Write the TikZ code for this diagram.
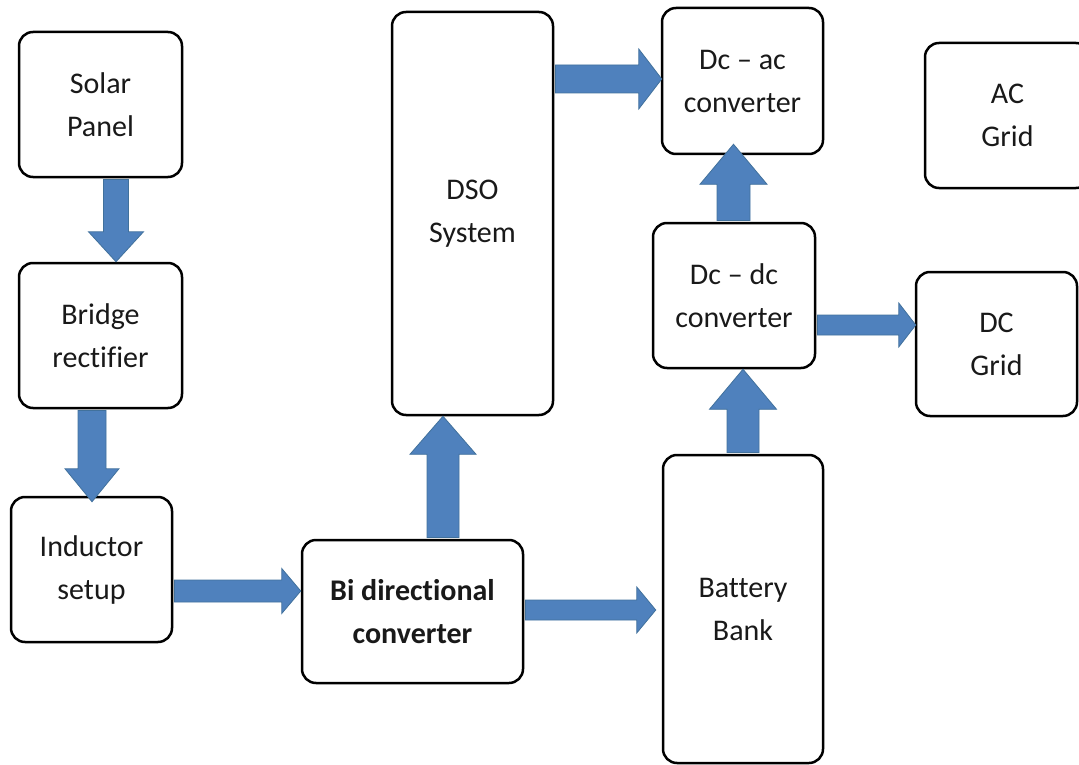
\documentclass[tikz,border=0pt]{standalone}
\usepackage{fontspec}
\setmainfont{Carlito}[Ligatures=NoCommon]
\usetikzlibrary{calc}
\definecolor{arrowblue}{HTML}{4F81BD}
\definecolor{arrowedge}{HTML}{41719C}
\tikzset{
  blockbox/.style={draw=black, line width=2.5pt, rounded corners=14pt, align=center,
    font=\fontsize{30}{43}\selectfont, inner sep=0pt, text=black!90},
  fatarrowstyle/.style={fill=arrowblue, draw=arrowedge, line width=0.8pt, line join=miter},
}
\newcommand{\fatarrow}[5]{% from, to, shaft half width, head half width, head length
  \coordinate (fa-s) at ($(#2)!#5!(#1)$);
  \path[fatarrowstyle] ($(#1)!#3!90:(#2)$) -- ($(fa-s)!#3!90:(#2)$) -- ($(fa-s)!#4!90:(#2)$)
    -- (#2) -- ($(fa-s)!#4!-90:(#2)$) -- ($(fa-s)!#3!-90:(#2)$) -- ($(#1)!#3!-90:(#2)$) -- cycle;
}
\begin{document}
\begin{tikzpicture}[x=1pt,y=-1pt]
\useasboundingbox (0,0) rectangle (1079,765);

% boxes
\node[blockbox, minimum width=163pt, minimum height=145pt] (sp)   at (100.5,104.5) {Solar\\Panel};
\node[blockbox, minimum width=163pt, minimum height=145pt] (br)   at (100.5,335.5) {Bridge\\rectifier};
\node[blockbox, minimum width=161pt, minimum height=145pt] (ind)  at (91.5,569.5)  {Inductor\\setup};
\node[blockbox, minimum width=221pt, minimum height=143pt, font=\fontsize{30}{43}\selectfont\bfseries] (bi) at (412.5,611.5) {Bi directional\\converter};
\node[blockbox, minimum width=161pt, minimum height=403pt] (dso)  at (472.5,213.5) {DSO\\System};
\node[blockbox, minimum width=161pt, minimum height=146pt] (dcac) at (742.5,81)    {Dc -- ac\\converter};
\node[blockbox, minimum width=165pt, minimum height=145pt] (ac)   at (1007.5,115.5){AC\\Grid};
\node[blockbox, minimum width=162pt, minimum height=145pt] (dcdc) at (734,295.5)   {Dc -- dc\\converter};
\node[blockbox, minimum width=161pt, minimum height=144pt] (dcg)  at (996.5,344)   {DC\\Grid};
\node[blockbox, minimum width=160pt, minimum height=308pt] (bat)  at (743,609)     {Battery\\Bank};

% arrow end points
\coordinate (a1s) at ($(sp.south)+(15.5,1.2)$);
\coordinate (a1e) at ($(br.north)+(15.5,0)$);
\coordinate (a2s) at ($(br.south)+(-8.5,1.2)$);
\coordinate (a2e) at ($(ind.north)+(0.5,6)$);
\coordinate (a3s) at ($(ind.east)+(1.2,21.5)$);
\coordinate (a3e) at ($(bi.west)+(0,-20.5)$);
\coordinate (a4s) at ($(bi.north)+(30.5,-1.2)$);
\coordinate (a4e) at ($(dso.south)+(-29.5,0)$);
\coordinate (a5s) at ($(bi.east)+(1.2,-1.5)$);
\coordinate (a5e) at ($(bat.west)+(-6,1)$);
\coordinate (a6s) at ($(dso.east)+(1.2,-134.5)$);
\coordinate (a6e) at ($(dcac.west)+(1,-2)$);
\coordinate (a7s) at ($(dcdc.north)+(-0.5,-1.2)$);
\coordinate (a7e) at ($(dcac.south)+(-9,-11)$);
\coordinate (a8s) at ($(bat.north)+(0,-1.2)$);
\coordinate (a8e) at ($(dcdc.south)+(9,0)$);
\coordinate (a9s) at ($(dcdc.east)+(1.2,29.5)$);
\coordinate (a9e) at ($(dcg.west)+(1,-19)$);

% block arrows
\fatarrow{a1s}{a1e}{12.5pt}{27.5pt}{30pt}
\fatarrow{a2s}{a2e}{14pt}{27pt}{33pt}
\fatarrow{a3s}{a3e}{11pt}{22.5pt}{19pt}
\fatarrow{a4s}{a4e}{16pt}{33pt}{38pt}
\fatarrow{a5s}{a5e}{10pt}{23pt}{19pt}
\fatarrow{a6s}{a6e}{14pt}{30pt}{23pt}
\fatarrow{a7s}{a7e}{16.5pt}{33.5pt}{40pt}
\fatarrow{a8s}{a8e}{16pt}{33.5pt}{40pt}
\fatarrow{a9s}{a9e}{10pt}{22pt}{17pt}
\end{tikzpicture}
\end{document}
